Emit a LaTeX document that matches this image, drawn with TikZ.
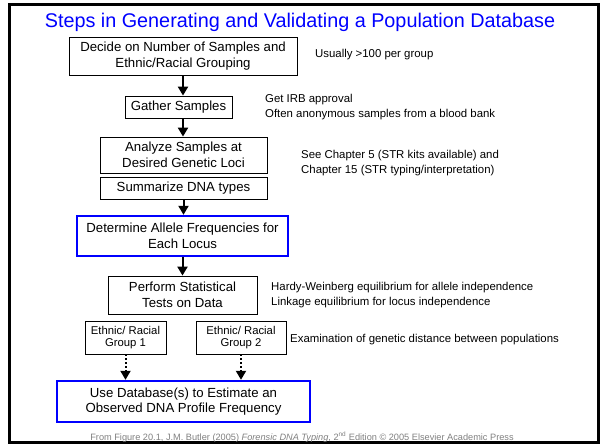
\documentclass[tikz,border=0pt]{standalone}
\usepackage{fontspec}
\setmainfont{Liberation Sans}
\usepackage{tikz}
\usetikzlibrary{arrows.meta,positioning}

\begin{document}
\begin{tikzpicture}[x=1pt,y=-1pt]

\tikzset{stepbox/.style={draw,line width=0.8pt,align=center,inner sep=0pt,
           font=\fontsize{13.2}{15.5}\selectfont},
         keybox/.style={stepbox,draw=blue,line width=2.4pt},
         groupbox/.style={stepbox,font=\fontsize{11.3}{12.5}\selectfont},
         note/.style={anchor=west,align=left,inner sep=0pt,
           font=\fontsize{11.4}{15}\selectfont},
         flow/.style={-{Triangle[length=9pt,width=10pt]},line width=2pt},
         dotflow/.style={flow,dash pattern=on 2pt off 2pt}}

\useasboundingbox (0,0) rectangle (603,446);
\draw[line width=3pt] (9.5,5) rectangle (598.5,443);

\node[text=blue,font=\fontsize{19.8}{22}\selectfont] (title) at (300,22.5)
  {Steps in Generating and Validating a Population Database};

% main column
\node[stepbox,minimum width=228pt,minimum height=38pt] (decide) at (183,56)
  {Decide on Number of Samples and\\Ethnic/Racial Grouping};
\node[stepbox,minimum width=107pt,minimum height=22pt] (gather) at (178.5,107)
  {Gather Samples};
\node[stepbox,minimum width=167pt,minimum height=36pt] (analyze) at (183.5,155)
  {Analyze Samples at\\Desired Genetic Loci};
\node[stepbox,minimum width=167pt,minimum height=22pt] (summ) at (183.5,188)
  {Summarize DNA types};
\node[keybox,minimum width=211pt,minimum height=40pt] (allele) at (182.5,236)
  {Determine Allele Frequencies for\\Each Locus};
\node[stepbox,minimum width=149pt,minimum height=38pt] (stats) at (182.5,295)
  {Perform Statistical\\Tests on Data};
\node[groupbox,minimum width=81pt,minimum height=33pt] (grp1) at (125.5,337.5)
  {Ethnic/ Racial\\Group 1};
\node[groupbox,minimum width=90pt,minimum height=33pt] (grp2) at (241,337.5)
  {Ethnic/ Racial\\Group 2};
\node[keybox,minimum width=253pt,minimum height=41pt] (estimate) at (183.5,401.5)
  {Use Database(s) to Estimate an\\Observed DNA Profile Frequency};

% side notes
\node[note] (n1) at (315,55) {Usually >100 per group};
\node[note] (n2) at (265,107.5) {Get IRB approval\\Often anonymous samples from a blood bank};
\node[note] (n3) at (301,163) {See Chapter 5 (STR kits available) and\\Chapter 15 (STR typing/interpretation)};
\node[note] (n4) at (271,295.5) {Hardy-Weinberg equilibrium for allele independence\\Linkage equilibrium for locus independence};
\node[note] (n5) at (290,340) {Examination of genetic distance between populations};

% arrows
\draw[flow] (decide.south) -- (decide.south |- gather.north);
\draw[flow] (decide.south |- gather.south) -- (decide.south |- analyze.north);
\draw[flow] (summ.south) -- (summ.south |- allele.north);
\draw[flow] (allele.south) -- (allele.south |- stats.north);
\draw[dotflow] (grp1.south) -- (grp1.south |- estimate.north);
\draw[dotflow] (grp2.south) -- (grp2.south |- estimate.north);

\node[text=black!50,font=\fontsize{9.2}{10}\selectfont] (src) at (302,437)
  {From Figure 20.1, J.M. Butler (2005) \textit{Forensic DNA Typing}, 2\textsuperscript{nd} Edition © 2005 Elsevier Academic Press};

\end{tikzpicture}
\end{document}
